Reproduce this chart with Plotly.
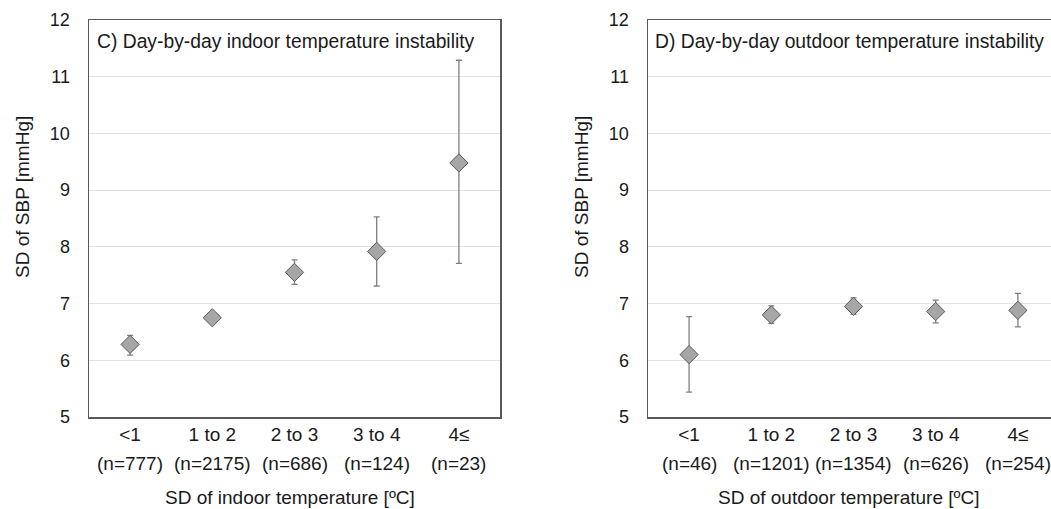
import plotly.graph_objects as go

categories = ["<1", "1 to 2", "2 to 3", "3 to 4", "4≤"]

indoor_n = ["(n=777)", "(n=2175)", "(n=686)", "(n=124)", "(n=23)"]
indoor_mean = [6.28, 6.75, 7.55, 7.92, 9.48]
indoor_upper = [6.44, 6.84, 7.77, 8.53, 11.29]
indoor_lower = [6.09, 6.67, 7.34, 7.31, 7.71]

outdoor_n = ["(n=46)", "(n=1201)", "(n=1354)", "(n=626)", "(n=254)"]
outdoor_mean = [6.10, 6.80, 6.95, 6.86, 6.88]
outdoor_upper = [6.77, 6.96, 7.10, 7.06, 7.18]
outdoor_lower = [5.44, 6.65, 6.81, 6.66, 6.59]

y_ticks = [5, 6, 7, 8, 9, 10, 11, 12]

OX, OY = 0, 0
W, H = 1051, 509
FONT = "Liberation Sans, Arial, sans-serif"
TXT = "#1a1a1a"


def px_x(p):
    return (p - OX) / W


def px_y(p):
    return 1 - (p - OY) / H


fig = go.Figure()

xpos = list(range(len(categories)))

panels = [
    ("x", "y", indoor_mean, indoor_upper, indoor_lower),
    ("x2", "y2", outdoor_mean, outdoor_upper, outdoor_lower),
]
for xa, ya, mean, up, lo in panels:
    fig.add_trace(go.Scatter(
        x=xpos, y=mean, xaxis=xa, yaxis=ya, mode="markers",
        marker=dict(symbol="diamond", size=14, color="#a6a6a6",
                    line=dict(color="#595959", width=1)),
        error_y=dict(type="data", symmetric=False,
                     array=[u - m for u, m in zip(up, mean)],
                     arrayminus=[m - l for m, l in zip(mean, lo)],
                     color="#7f7f7f", thickness=1.3, width=3),
        showlegend=False, hoverinfo="skip", cliponaxis=False,
    ))

# pixel geometry (page pixels)
L_x0, L_x1 = 89, 500
R_x0 = 648
R_x1 = OX + W
unit_px = (L_x1 - L_x0) / 5.0
r_range_max = -0.5 + (R_x1 - R_x0) / unit_px
y_top, y_bot = 20, 417

ydom = [px_y(y_bot), px_y(y_top)]

xcommon = dict(
    tickvals=xpos, ticktext=categories, showgrid=False, zeroline=False,
    showline=True, linecolor="#595959", linewidth=1.5, mirror=True,
    ticks="", tickfont=dict(family=FONT, size=19, color=TXT), fixedrange=True,
    automargin=False,
)
ycommon = dict(
    range=[5, 12], tickvals=y_ticks, showgrid=True, gridcolor="#e3e3e3",
    gridwidth=1, zeroline=False, showline=True, linecolor="#595959",
    linewidth=1.5, ticks="", ticklabelstandoff=14,
    tickfont=dict(family=FONT, size=18, color=TXT), fixedrange=True,
    automargin=False,
)

fig.update_layout(
    width=W, height=H,
    margin=dict(l=0, r=0, t=0, b=0),
    paper_bgcolor="white", plot_bgcolor="white",
    xaxis=dict(domain=[px_x(L_x0), px_x(L_x1)], range=[-0.5, 4.5], anchor="y", **xcommon),
    yaxis=dict(domain=ydom, anchor="x", mirror=True, **ycommon),
    xaxis2=dict(domain=[px_x(R_x0), 1.0], range=[-0.5, r_range_max], anchor="y2", **xcommon),
    yaxis2=dict(domain=ydom, anchor="x2", mirror=False, **ycommon),
)

ann = []
# panel titles
ann.append(dict(text="C) Day-by-day indoor temperature instability", x=px_x(95), y=px_y(41),
                xref="paper", yref="paper", xanchor="left", yanchor="middle", showarrow=False,
                font=dict(family=FONT, size=19.3, color=TXT)))
ann.append(dict(text="D) Day-by-day outdoor temperature instability", x=px_x(653), y=px_y(41),
                xref="paper", yref="paper", xanchor="left", yanchor="middle", showarrow=False,
                font=dict(family=FONT, size=19.3, color=TXT)))
# n labels under ticks
for xa, ns in (("x", indoor_n), ("x2", outdoor_n)):
    for i, t in enumerate(ns):
        ann.append(dict(text=t, x=xpos[i], xref=xa, y=px_y(463), yref="paper",
                        xanchor="center", yanchor="middle", showarrow=False,
                        font=dict(family=FONT, size=19, color=TXT)))
# axis titles
for xc in (23, 582):
    ann.append(dict(text="SD of SBP [mmHg]", x=px_x(xc), y=px_y(197), xref="paper", yref="paper",
                    textangle=-90, xanchor="center", yanchor="middle", showarrow=False,
                    font=dict(family=FONT, size=19, color=TXT)))
ann.append(dict(text="SD of indoor temperature [ºC]", x=px_x(290), y=px_y(497), xref="paper",
                yref="paper", xanchor="center", yanchor="middle", showarrow=False,
                font=dict(family=FONT, size=19, color=TXT)))
ann.append(dict(text="SD of outdoor temperature [ºC]", x=px_x(848), y=px_y(497), xref="paper",
                yref="paper", xanchor="center", yanchor="middle", showarrow=False,
                font=dict(family=FONT, size=19, color=TXT)))
fig.update_layout(annotations=ann)

fig.write_html(
    "out.html",
    config={"displayModeBar": False, "staticPlot": True},
    post_script="document.body.style.margin='0';document.body.style.overflow='hidden';",
)
